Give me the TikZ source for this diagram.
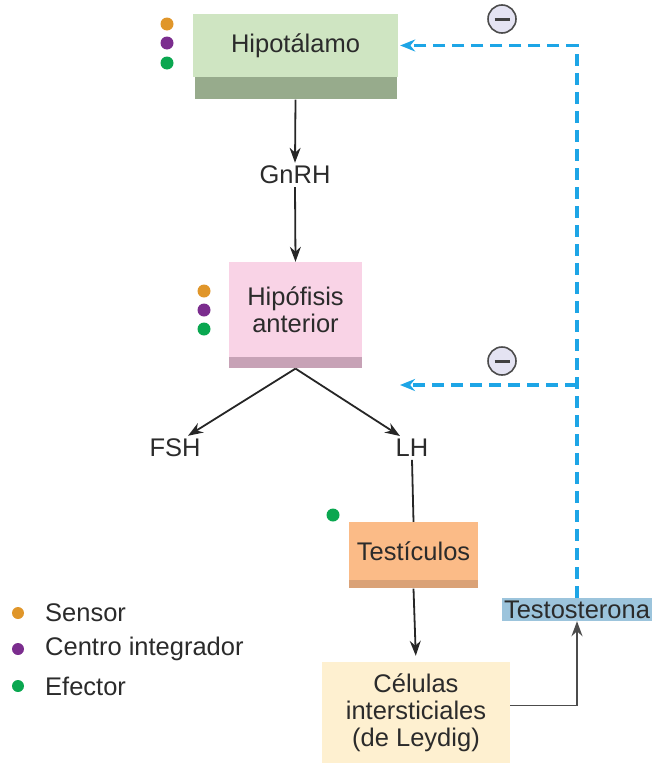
\documentclass[tikz,border=0pt]{standalone}
\usepackage{fontspec}
\setmainfont{Liberation Sans}
\usetikzlibrary{positioning,arrows.meta}
\definecolor{txt}{HTML}{2B2B2B}
\definecolor{verdeclaro}{HTML}{CFE5C2}
\definecolor{verdeosc}{HTML}{97AB8C}
\definecolor{rosa}{HTML}{F9D3E6}
\definecolor{rosaosc}{HTML}{C7A2B6}
\definecolor{naranja}{HTML}{FBBB87}
\definecolor{naranjaosc}{HTML}{DAA277}
\definecolor{crema}{HTML}{FEF0D0}
\definecolor{azulbox}{HTML}{9CC4DC}
\definecolor{azulret}{HTML}{1DA5E6}
\definecolor{sensor}{HTML}{E0962A}
\definecolor{integrador}{HTML}{7B2D8E}
\definecolor{efector}{HTML}{0AA750}
\definecolor{lila}{HTML}{E4E3F2}
\tikzset{
  txtnode/.style={font=\fontsize{25.5}{27}\selectfont, text=txt, inner sep=3pt},
  caja/.style={txtnode, fill=#1, align=center, inner sep=0pt},
  banda/.style={fill=#1, inner sep=0pt},
  flecha/.style={->, line width=1.8pt, black!85},
  retro/.style={-{Stealth[length=15pt,width=12pt]}, azulret, line width=3.2pt, dash pattern=on 12pt off 7pt},
  menos/.style={circle, draw=black!70, fill=lila, line width=1.6pt, minimum size=28pt, inner sep=0pt,
    path picture={\draw[line width=3pt, black!75] ([xshift=-7.5pt]path picture bounding box.center) -- ([xshift=7.5pt]path picture bounding box.center);}},
  >={Stealth[length=15pt,width=11pt]}
}
\begin{document}
\begin{tikzpicture}[x=1pt, y=-1pt]
	\useasboundingbox (0,0) rectangle (652,763);

	% Hipotalamo
	\node[caja=verdeclaro, minimum width=205pt, minimum height=63pt] (hipo) at (295.5,45.5) {Hipotálamo};
	\node[banda=verdeosc, minimum width=202pt, minimum height=22pt, below=0pt of hipo] (hipob) {};
	\fill[sensor] (167,24) circle (6.5pt);
	\fill[integrador] (167,43) circle (6.5pt);
	\fill[efector] (167,63) circle (6.5pt);

	% GnRH
	\node[txtnode] (gnrh) at (295,175) {GnRH};
	\draw[flecha] (hipob.south) -- (gnrh.north);

	% Hipofisis anterior
	\node[caja=rosa, minimum width=133pt, minimum height=95pt] (hipof) at (295.5,309.5) {Hipófisis\\anterior};
	\node[banda=rosaosc, minimum width=133pt, minimum height=11pt, below=0pt of hipof] (hipofb) {};
	\fill[sensor] (204,291) circle (6.5pt);
	\fill[integrador] (204,310) circle (6.5pt);
	\fill[efector] (204,329) circle (6.5pt);
	\draw[flecha] (gnrh.south) -- (hipof.north);

	% FSH y LH
	\node[txtnode] (fsh) at (175,448) {FSH};
	\node[txtnode] (lh) at (412,448) {LH};
	\draw[flecha] (hipofb.south) -- ([xshift=13pt]fsh.north);
	\draw[flecha] (hipofb.south) -- ([xshift=-12pt]lh.north);

	% Testiculos
	\node[caja=naranja, minimum width=129pt, minimum height=58pt] (testic) at (413.5,551) {Testículos};
	\node[banda=naranjaosc, minimum width=129pt, minimum height=8pt, below=0pt of testic] (testicb) {};
	\fill[efector] (333,515) circle (6.5pt);
	\draw[line width=1.8pt, black!85] (lh.south) -- (testic.north);

	% Celulas de Leydig
	\node[caja=crema, minimum width=188pt, minimum height=101pt] (celulas) at (416,712.5) {Células\\intersticiales\\(de Leydig)};
	\draw[flecha, shorten >=6pt] (testicb.south) -- (celulas.north);

	% Testosterona
	\node[caja=azulbox, minimum width=150pt, minimum height=23pt] (testo) at (577,609.5) {Testosterona};
	\draw[flecha, black!70] ([yshift=7pt]celulas.east) -| (testo.south);

	% Retroalimentacion negativa
	\coordinate (fin2) at (400,385);
	\draw[retro, shorten >=2pt] (testo.north) |- (hipo.east);
	\draw[retro] (testo.north |- fin2) -- (fin2);
	\node[menos] (neg1) at (502,19) {};
	\node[menos] (neg2) at (502,361) {};

	% Leyenda
	\fill[sensor] (18,613) circle (6pt);
	\fill[integrador] (18,649) circle (6pt);
	\fill[efector] (18,686) circle (6pt);
	\node[txtnode, anchor=west] (leg1) at (42,613) {Sensor};
	\node[txtnode, anchor=west] (leg2) at (42,649) {Centro integrador};
	\node[txtnode, anchor=west] (leg3) at (42,686) {Efector};
\end{tikzpicture}
\end{document}
